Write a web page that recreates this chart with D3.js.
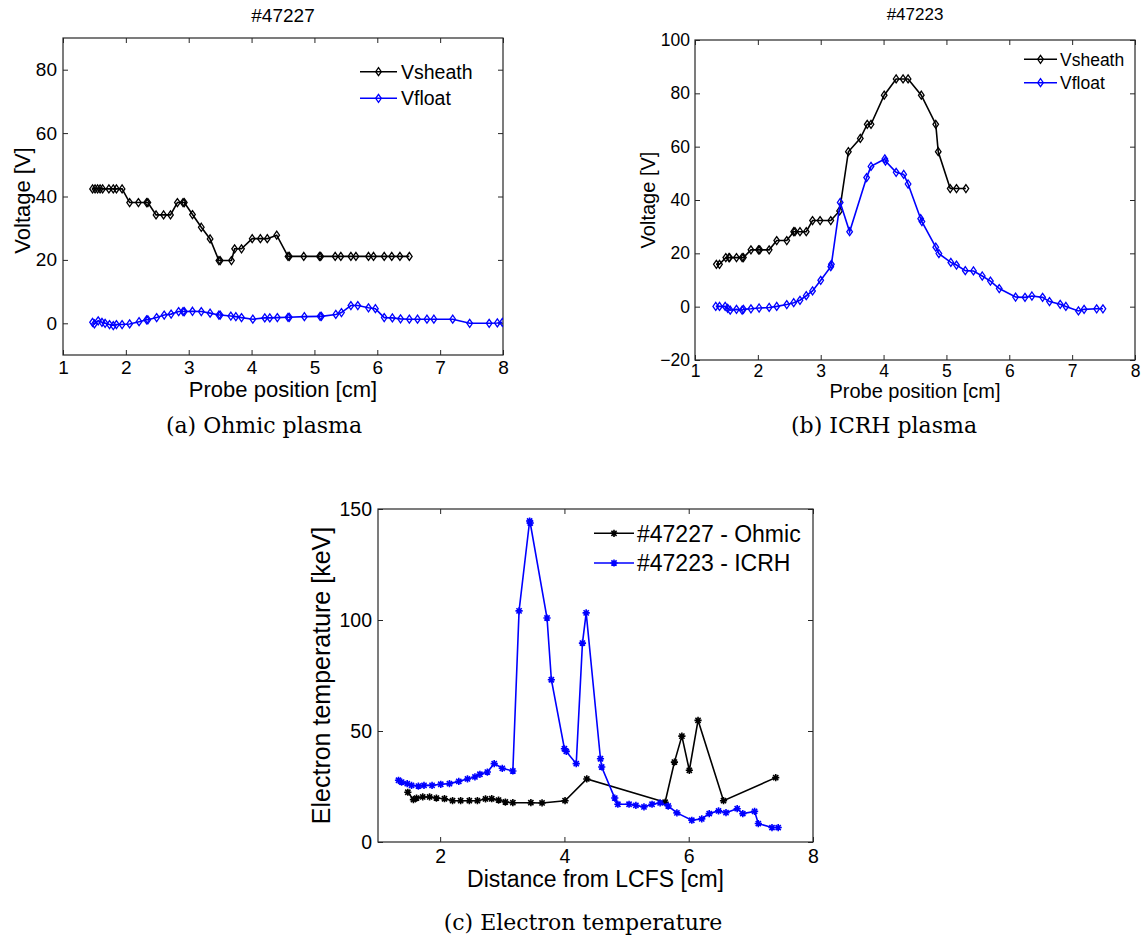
<!DOCTYPE html>
<html>
<head>
<meta charset="utf-8">
<script src="https://cdn.jsdelivr.net/npm/d3@7"></script>
<style>
  html, body { margin: 0; padding: 0; background: #fff; }
  svg { display: block; }
  text { font-family: "Liberation Sans", Arial, Helvetica, sans-serif; fill: #000; }
  .cap { font-family: "DejaVu Serif", "Liberation Serif", serif; }
</style>
</head>
<body>
<svg id="fig" width="1147" height="941"></svg>
<script>
// ---------------- DATA ----------------
// (a) Ohmic plasma, shot #47227
const aSheathX = [1.47,1.51,1.55,1.59,1.63,1.73,1.80,1.85,1.94,2.06,2.20,2.33,2.35,2.48,2.60,2.71,2.82,2.91,2.93,3.06,3.20,3.34,3.48,3.50,3.68,3.73,3.84,4.01,4.14,4.25,4.40,4.58,4.60,4.83,5.08,5.10,5.33,5.42,5.58,5.66,5.86,5.94,6.11,6.23,6.36,6.51];
const aSheathY = [42.4,42.4,42.4,42.4,42.4,42.4,42.4,42.4,42.4,38.1,38.1,38.1,38.1,34.2,34.2,34.2,38.1,38.1,38.1,34.3,30.3,26.6,19.8,19.8,19.8,23.5,23.5,26.7,26.7,26.7,27.8,21.1,21.1,21.1,21.1,21.1,21.1,21.1,21.1,21.1,21.1,21.1,21.1,21.1,21.1,21.1];
const aFloatX = [1.47,1.50,1.56,1.62,1.67,1.74,1.80,1.85,1.94,2.06,2.21,2.33,2.35,2.49,2.61,2.72,2.84,2.91,2.93,3.06,3.20,3.34,3.48,3.50,3.67,3.75,3.84,4.02,4.21,4.29,4.41,4.58,4.60,4.84,5.09,5.11,5.34,5.43,5.58,5.69,5.86,5.97,6.11,6.24,6.37,6.51,6.64,6.79,6.90,7.20,7.47,7.78,7.91,7.99];
const aFloatY = [0.3,-0.2,0.8,0.3,0.0,-0.4,-0.7,-0.4,-0.4,-0.2,0.5,1.1,1.1,1.8,2.6,2.9,3.7,3.7,3.7,3.8,3.7,3.2,2.6,2.6,2.3,2.1,1.8,1.3,1.7,1.7,1.8,1.9,1.9,2.1,2.2,2.2,2.8,3.4,5.6,5.6,4.9,4.6,1.8,1.7,1.4,1.3,1.3,1.3,1.3,1.3,0.0,0.0,0.1,0.3];

// (b) ICRH plasma, shot #47223
const bSheathX = [1.34,1.39,1.49,1.54,1.55,1.66,1.75,1.77,1.89,2.01,2.03,2.18,2.30,2.46,2.57,2.59,2.67,2.77,2.87,2.99,3.16,3.30,3.44,3.63,3.74,3.80,4.01,4.20,4.31,4.39,4.60,4.83,4.87,5.06,5.16,5.31];
const bSheathY = [15.9,15.9,18.4,18.4,18.4,18.4,18.4,18.4,21.3,21.3,21.3,21.3,24.8,24.8,28.1,28.1,28.1,28.1,32.3,32.3,32.3,35.9,58.1,63.1,68.4,68.4,79.3,85.4,85.4,85.4,79.3,68.4,58.1,44.3,44.3,44.3];
const bFloatX = [1.33,1.39,1.48,1.52,1.56,1.66,1.75,1.77,1.89,2.02,2.18,2.30,2.46,2.57,2.67,2.77,2.87,3.00,3.16,3.17,3.31,3.46,3.73,3.80,4.02,4.03,4.20,4.32,4.39,4.59,4.61,4.83,4.88,5.07,5.16,5.30,5.43,5.57,5.70,5.84,6.10,6.25,6.36,6.53,6.64,6.81,6.90,7.10,7.19,7.39,7.49];
const bFloatY = [0.1,0.1,0.1,-0.6,-1.3,-1.0,-1.3,-1.0,-0.8,-0.5,-0.3,0.1,0.8,1.5,2.4,4.1,5.9,9.9,15.0,15.9,39.1,28.1,48.4,52.6,55.4,54.6,50.4,49.6,46.0,33.0,31.9,22.3,19.9,16.6,15.6,13.5,13.4,11.5,9.6,6.8,3.6,3.5,4.0,3.5,1.9,0.9,0.1,-1.6,-1.0,-0.8,-0.8];

// (c) Electron temperature
const cOhmicX = [1.48,1.57,1.62,1.72,1.83,1.94,2.07,2.20,2.33,2.47,2.60,2.73,2.83,2.94,3.05,3.17,3.46,3.64,4.01,4.36,5.62,5.77,5.89,6.01,6.15,6.56,7.40];
const cOhmicY = [22.4,19.1,19.8,20.3,20.3,19.8,19.5,18.6,18.6,18.6,18.6,19.4,19.5,18.9,18.0,17.7,17.7,17.6,18.6,28.4,17.9,36.0,47.7,32.3,54.8,18.6,29.0];
const cIcrhX = [1.33,1.38,1.47,1.54,1.65,1.74,1.87,2.01,2.15,2.30,2.44,2.56,2.64,2.76,2.87,3.00,3.17,3.27,3.44,3.45,3.72,3.79,4.00,4.03,4.19,4.29,4.35,4.58,4.60,4.81,4.86,5.04,5.15,5.28,5.41,5.54,5.67,5.81,6.05,6.21,6.33,6.48,6.60,6.78,6.87,7.06,7.12,7.34,7.44];
const cIcrhY = [27.8,27.0,26.3,25.5,25.2,25.5,25.5,26.0,26.3,27.3,28.4,29.3,30.5,31.5,35.3,33.2,32.0,104.1,144.6,143.7,100.9,73.1,42.0,40.8,35.3,89.6,103.2,37.5,33.8,19.8,17.0,17.0,16.5,15.8,17.0,17.6,16.2,13.1,9.8,10.4,12.8,14.0,13.2,15.0,12.8,13.8,8.3,6.5,6.5];

// ticks & labels
const xTicksAB = [1,2,3,4,5,6,7,8];
const yTicksA = [0,20,40,60,80];
const yTicksB = [-20,0,20,40,60,80,100];
const xTicksC = [2,4,6,8];
const yTicksC = [0,50,100,150];
const legendAB = ["Vsheath","Vfloat"];
const legendC = ["#47227 - Ohmic","#47223 - ICRH"];
const titles = ["#47227","#47223"];
const captions = ["(a) Ohmic plasma","(b) ICRH plasma","(c) Electron temperature"];
const seriesColors = ["#000000","#0000ff"];

// ---------------- DRAWING ----------------
const svg = d3.select("#fig");

function diamondPath(){ return "M0,-4L2.8,0L0,4L-2.8,0Z"; }
function starPath(){ const r=3.6, d=2.6; return `M${-r},0L${r},0M0,${-r}L0,${r}M${-d},${-d}L${d},${d}M${-d},${d}L${d},${-d}`; }

function panel(o){
  const g = svg.append("g");
  const x = d3.scaleLinear().domain(o.xDomain).range([o.left, o.right]);
  const y = d3.scaleLinear().domain(o.yDomain).range([o.bottom, o.top]);
  const axisColor = "#262626";

  const cid = "clip" + o.id;
  svg.append("clipPath").attr("id", cid).append("rect")
    .attr("x", o.left).attr("y", o.top).attr("width", o.right-o.left).attr("height", o.bottom-o.top);

  const ax = g.append("g").attr("transform", `translate(0,${o.bottom})`)
    .call(d3.axisBottom(x).tickValues(o.xTicks).tickSize(-5).tickPadding(o.xPad).tickFormat(d3.format("d")));
  const axTop = g.append("g").attr("transform", `translate(0,${o.top})`)
    .call(d3.axisTop(x).tickValues(o.xTicks).tickSize(-5).tickFormat(""));
  const ay = g.append("g").attr("transform", `translate(${o.left},0)`)
    .call(d3.axisLeft(y).tickValues(o.yTicks).tickSize(-5).tickPadding(o.yPad).tickFormat(d3.format("d")));
  const ayR = g.append("g").attr("transform", `translate(${o.right},0)`)
    .call(d3.axisRight(y).tickValues(o.yTicks).tickSize(-5).tickFormat(""));
  [ax, axTop, ay, ayR].forEach(a => {
    a.select(".domain").remove();
    a.selectAll("line").attr("stroke", axisColor).attr("stroke-width", 1);
    a.selectAll("text").style("font-size", o.tickFont + "px").attr("fill", "#000")
      .style("font-family", '"Liberation Sans", Arial, sans-serif');
  });
  g.append("rect").attr("x", o.left).attr("y", o.top).attr("width", o.right-o.left).attr("height", o.bottom-o.top)
    .attr("fill", "none").attr("stroke", axisColor).attr("stroke-width", 1.2);

  const plot = g.append("g").attr("clip-path", `url(#${cid})`);
  o.series.forEach((s, i) => {
    const pts = s.xs.map((v, k) => [v, s.ys[k]]);
    plot.append("path").datum(pts)
      .attr("d", d3.line().x(d => x(d[0])).y(d => y(d[1])))
      .attr("fill", "none").attr("stroke", seriesColors[i]).attr("stroke-width", 1.6);
    plot.selectAll(null).data(pts).enter().append("path")
      .attr("transform", d => `translate(${x(d[0])},${y(d[1])})`)
      .attr("d", o.marker === "d" ? diamondPath() : starPath())
      .attr("fill", "none").attr("stroke", seriesColors[i]).attr("stroke-width", o.marker === "d" ? 1.3 : 1.6);
  });

  o.legend.forEach((t, i) => {
    const ly = o.legY[i];
    g.append("line").attr("x1", o.legX0).attr("x2", o.legX1).attr("y1", ly).attr("y2", ly)
      .attr("stroke", seriesColors[i]).attr("stroke-width", 1.6);
    g.append("path").attr("transform", `translate(${(o.legX0+o.legX1)/2},${ly})`)
      .attr("d", o.marker === "d" ? diamondPath() : starPath())
      .attr("fill", "none").attr("stroke", seriesColors[i]).attr("stroke-width", o.marker === "d" ? 1.3 : 1.6);
    g.append("text").attr("x", o.legTextX).attr("y", ly).attr("dy", "0.36em")
      .style("font-size", o.legFont + "px").text(t);
  });

  g.append("text").attr("x", (o.left+o.right)/2).attr("y", o.xLabelY).attr("text-anchor", "middle")
    .style("font-size", o.labelFont + "px").text(o.xLabel);
  g.append("text").attr("transform", `translate(${o.yLabelX},${(o.top+o.bottom)/2 + (o.yLabelShift||0)}) rotate(-90)`)
    .attr("text-anchor", "middle").attr("dy", "0.36em")
    .style("font-size", o.yLabelFont + "px").text(o.yLabel);
  if (o.title) {
    g.append("text").attr("x", (o.left+o.right)/2).attr("y", o.titleY).attr("text-anchor", "middle")
      .style("font-size", o.titleFont + "px").text(o.title);
  }
  g.append("text").attr("class", "cap").attr("x", o.capX).attr("y", o.capY).attr("text-anchor", "middle")
    .style("font-size", "22px").text(o.caption);
}

panel({
  id: "a", left: 63, right: 503, top: 38, bottom: 355,
  xDomain: [1, 8], yDomain: [-10, 90], xTicks: xTicksAB, yTicks: yTicksA,
  tickFont: 19, xPad: 6, yPad: 6, marker: "d",
  series: [{xs: aSheathX, ys: aSheathY}, {xs: aFloatX, ys: aFloatY}],
  legend: legendAB, legX0: 360, legX1: 397, legTextX: 401, legY: [71.7, 98.3], legFont: 19.5,
  xLabel: "Probe position [cm]", xLabelY: 397, labelFont: 22,
  yLabel: "Voltage [V]", yLabelX: 22, yLabelFont: 22, yLabelShift: 4,
  title: titles[0], titleY: 21.5, titleFont: 19,
  caption: captions[0], capX: 264, capY: 433
});

panel({
  id: "b", left: 695, right: 1135, top: 40, bottom: 360,
  xDomain: [1, 8], yDomain: [-20, 100], xTicks: xTicksAB, yTicks: yTicksB,
  tickFont: 17.5, xPad: 5, yPad: 5, marker: "d",
  series: [{xs: bSheathX, ys: bSheathY}, {xs: bFloatX, ys: bFloatY}],
  legend: legendAB, legX0: 1024, legX1: 1057, legTextX: 1060, legY: [59.3, 82.7], legFont: 17.5,
  xLabel: "Probe position [cm]", xLabelY: 398, labelFont: 20,
  yLabel: "Voltage [V]", yLabelX: 648, yLabelFont: 20,
  title: titles[1], titleY: 20, titleFont: 17,
  caption: captions[1], capX: 884, capY: 433
});

panel({
  id: "c", left: 378, right: 813, top: 509, bottom: 842,
  xDomain: [1, 8], yDomain: [0, 150], xTicks: xTicksC, yTicks: yTicksC,
  tickFont: 19.5, xPad: 7, yPad: 6, marker: "*",
  series: [{xs: cOhmicX, ys: cOhmicY}, {xs: cIcrhX, ys: cIcrhY}],
  legend: legendC, legX0: 594, legX1: 634, legTextX: 637, legY: [533.3, 563], legFont: 23,
  xLabel: "Distance from LCFS [cm]", xLabelY: 887, labelFont: 23,
  yLabel: "Electron temperature [keV]", yLabelX: 321, yLabelFont: 25,
  title: null,
  caption: captions[2], capX: 583, capY: 930
});
</script>
</body>
</html>
